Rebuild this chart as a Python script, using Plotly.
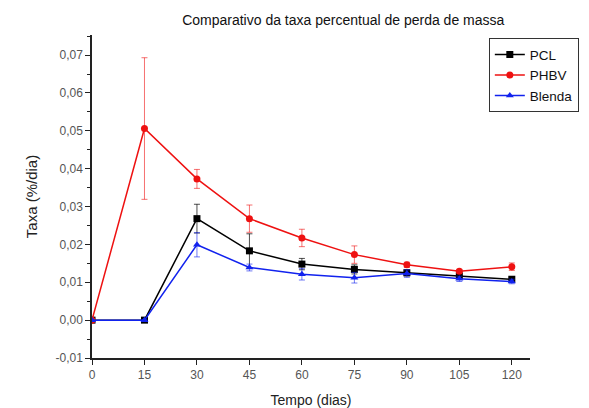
import plotly.graph_objects as go

dias = [0, 15, 30, 45, 60, 75, 90, 105, 120]
pcl = [0.0, 0.0, 0.0268, 0.0183, 0.0148, 0.0134, 0.0125, 0.0117, 0.0108]
pcl_err = [0.0, 0.0, 0.0038, 0.0045, 0.0015, 0.0012, 0.0008, 0.0006, 0.0005]
phbv = [0.0, 0.0506, 0.0373, 0.0268, 0.0217, 0.0173, 0.0146, 0.0129, 0.0141]
phbv_err = [0.0, 0.0187, 0.0025, 0.0036, 0.0023, 0.0023, 0.0007, 0.0005, 0.0010]
blenda = [0.0, 0.0, 0.0199, 0.0139, 0.0121, 0.0112, 0.0123, 0.0109, 0.0102]
blenda_err = [0.0, 0.0, 0.0032, 0.0009, 0.0015, 0.0014, 0.0010, 0.0007, 0.0006]

y_ticks = [-0.01, 0.0, 0.01, 0.02, 0.03, 0.04, 0.05, 0.06, 0.07]

fig = go.Figure()

def add(name, y, err, color, ecolor, symbol):
    fig.add_trace(go.Scatter(
        x=dias, y=y, name=name, mode="lines+markers",
        line=dict(color=color, width=1.5),
        marker=dict(symbol=symbol, size=7, color=color),
        error_y=dict(type="data", array=err, visible=True, color=ecolor,
                     thickness=1, width=3),
    ))

add("PCL", pcl, pcl_err, "black", "rgba(0,0,0,0.7)", "square")
add("PHBV", phbv, phbv_err, "#ee1111", "rgba(238,17,17,0.6)", "circle")
add("Blenda", blenda, blenda_err, "#1122ee", "rgba(17,34,238,0.6)", "triangle-up")

# the page body adds an 8px offset, so the figure is 8px smaller on each side
fig.update_layout(
    width=581, height=400,
    margin=dict(l=84, r=59, t=27, b=50, autoexpand=False),
    paper_bgcolor="white", plot_bgcolor="white",
    separators=",.",
    font=dict(family="Liberation Sans, Arial, sans-serif", color="#222"),
    title=dict(text="Comparativo da taxa percentual de perda de massa",
               x=0.577, xanchor="center", y=0.97, yanchor="middle",
               font=dict(size=14, color="#111")),
    showlegend=True,
    legend=dict(x=0.906, y=0.99, xanchor="left", yanchor="top",
                bgcolor="white", bordercolor="#333", borderwidth=1,
                font=dict(size=13.5, color="#111"), tracegroupgap=0,
                itemwidth=30),
)

fig.update_xaxes(
    range=[0, 125.2], tickmode="array", tickvals=dias,
    ticktext=[str(d) for d in dias], automargin=False,
    showgrid=False, zeroline=False, showline=True, linecolor="#222",
    linewidth=1.5, ticks="outside", ticklen=5, tickwidth=1.2, tickcolor="#222",
    tickfont=dict(size=12, color="#555"),
    title=dict(text="Tempo (dias)", font=dict(size=14, color="#222"), standoff=15),
)
fig.update_yaxes(
    range=[-0.01, 0.0753], tickmode="array", tickvals=y_ticks,
    ticktext=[("%.2f" % v).replace(".", ",") for v in y_ticks], automargin=False,
    showgrid=False, zeroline=False, showline=True, linecolor="#222",
    linewidth=1.5, ticks="outside", ticklen=5, tickwidth=1.2, tickcolor="#222",
    tickfont=dict(size=12, color="#555"),
    minor=dict(dtick=0.005, tick0=0, ticks="outside", ticklen=3,
               tickcolor="#222", showgrid=False),
    title=dict(text="Taxa (%/dia)", font=dict(size=15, color="#222"), standoff=14),
)

fig.write_html("out.html")
